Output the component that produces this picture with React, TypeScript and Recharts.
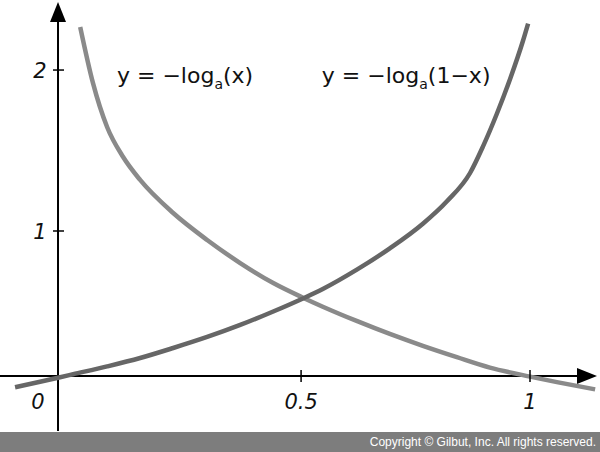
import { Line, LineChart, ReferenceDot, ReferenceLine, XAxis, YAxis } from "recharts";

// y = -log_a(x)
const negLogX = [0.047, 0.074, 0.104, 0.138, 0.174, 0.244, 0.316, 0.386, 0.456, 0.519, 0.561, 0.634, 0.703, 0.773, 0.845, 0.915, 1.0, 1.057, 1.138];
const negLogY = [2.407, 2.021, 1.717, 1.51, 1.352, 1.124, 0.938, 0.779, 0.641, 0.54, 0.478, 0.378, 0.29, 0.208, 0.13, 0.058, -0.004, -0.042, -0.092];

// y = -log_a(1-x)
const negLog1mX = [-0.091, -0.038, 0.0, 0.032, 0.104, 0.174, 0.244, 0.316, 0.386, 0.456, 0.519, 0.561, 0.634, 0.703, 0.773, 0.824, 0.873, 0.9, 0.93, 0.958, 0.985, 0.996];
const negLog1mY = [-0.078, -0.04, -0.012, 0.012, 0.066, 0.124, 0.193, 0.269, 0.352, 0.445, 0.535, 0.6, 0.735, 0.88, 1.05, 1.205, 1.4, 1.58, 1.81, 2.05, 2.31, 2.43];

// hand-drawn ticks are not evenly spaced, so the values sit where the marks are
const xTicks = [0, 0.515, 1];
const xTickLabels = ["0", "0.5", "1"];
const yTicks = [1, 2.11];
const yTickLabels = ["1", "2"];

const X_DOMAIN = [-0.1229, 1.1483];
const Y_DOMAIN = [-0.3862, 2.593];

const negLogData = negLogX.map((x, i) => ({ x, y: negLogY[i] }));
const negLog1mData = negLog1mX.map((x, i) => ({ x, y: negLog1mY[i] }));

const FONT = "'DejaVu Sans', sans-serif";

function AxisArrow(props: any) {
  const { x1, y1, x2, y2 } = props;
  const len = Math.hypot(x2 - x1, y2 - y1) || 1;
  const ux = (x2 - x1) / len;
  const uy = (y2 - y1) / len;
  const bx = x2 - ux * 20;
  const by = y2 - uy * 20;
  const px = -uy * 8;
  const py = ux * 8;
  return (
    <g>
      <line x1={x1} y1={y1} x2={bx} y2={by} stroke="#000" strokeWidth={2} />
      <polygon
        points={`${x2},${y2} ${bx + px},${by + py} ${bx - px},${by - py}`}
        fill="#000"
      />
    </g>
  );
}

function Equation({ cx, cy, arg }: { cx?: number; cy?: number; arg: string }) {
  return (
    <text x={cx} y={cy} fontFamily={FONT} fontSize={22} fill="#111">
      <tspan>y = −log</tspan>
      <tspan fontSize={14} dy={6}>a</tspan>
      <tspan dy={-6}>{arg}</tspan>
    </text>
  );
}

export default function App() {
  return (
    <div style={{ position: "absolute", left: 0, top: 0, width: 600, height: 452, background: "#fff" }}>
      <LineChart width={600} height={432} margin={{ top: 0, right: 0, bottom: 0, left: 0 }}>
        <XAxis type="number" dataKey="x" domain={X_DOMAIN} allowDataOverflow hide />
        <YAxis type="number" dataKey="y" domain={Y_DOMAIN} allowDataOverflow hide />

        <ReferenceLine
          ifOverflow="visible"
          segment={[{ x: X_DOMAIN[0], y: 0 }, { x: 1.142, y: 0 }]}
          shape={AxisArrow}
        />
        <ReferenceLine
          ifOverflow="visible"
          segment={[{ x: 0, y: -0.38 }, { x: 0, y: 2.58 }]}
          shape={AxisArrow}
        />

        {xTicks.map((t, i) => (
          <ReferenceDot
            key={`xt-${i}`}
            x={t}
            y={0}
            ifOverflow="visible"
            shape={(p: any) => (
              <g>
                {t !== 0 && (
                  <line x1={p.cx} y1={p.cy - 6} x2={p.cx} y2={p.cy + 6} stroke="#000" strokeWidth={1.5} />
                )}
                <text
                  x={t === 0 ? p.cx - 20 : p.cx}
                  y={p.cy + 33}
                  textAnchor="middle"
                  fontFamily={FONT}
                  fontStyle="italic"
                  fontSize={21}
                  fill="#111"
                >
                  {xTickLabels[i]}
                </text>
              </g>
            )}
          />
        ))}

        {yTicks.map((t, i) => (
          <ReferenceDot
            key={`yt-${i}`}
            x={0}
            y={t}
            ifOverflow="visible"
            shape={(p: any) => (
              <g>
                <line x1={p.cx - 5} y1={p.cy} x2={p.cx + 6} y2={p.cy} stroke="#000" strokeWidth={1.5} />
                <text
                  x={p.cx - 18}
                  y={p.cy + 8}
                  textAnchor="middle"
                  fontFamily={FONT}
                  fontStyle="italic"
                  fontSize={21}
                  fill="#111"
                >
                  {yTickLabels[i]}
                </text>
              </g>
            )}
          />
        ))}

        <Line
          data={negLogData}
          dataKey="y"
          type="monotone"
          stroke="#8a8a8a"
          strokeWidth={4.5}
          dot={false}
          activeDot={false}
          isAnimationActive={false}
        />
        <Line
          data={negLog1mData}
          dataKey="y"
          type="monotone"
          stroke="#666666"
          strokeWidth={4.5}
          dot={false}
          activeDot={false}
          isAnimationActive={false}
        />

        <ReferenceDot x={0.125} y={2.021} ifOverflow="visible" shape={(p: any) => <Equation cx={p.cx} cy={p.cy} arg="(x)" />} />
        <ReferenceDot x={0.559} y={2.021} ifOverflow="visible" shape={(p: any) => <Equation cx={p.cx} cy={p.cy} arg="(1−x)" />} />
      </LineChart>
      <div
        style={{
          position: "absolute",
          left: 0,
          top: 432,
          width: 600,
          height: 20,
          background: "#7d7d7d",
          color: "#fff",
          fontFamily: "'Liberation Sans', Arial, sans-serif",
          fontSize: 12,
          lineHeight: "20px",
          textAlign: "right",
          paddingRight: 4,
          boxSizing: "border-box",
        }}
      >
        Copyright © Gilbut, Inc. All rights reserved.
      </div>
    </div>
  );
}
